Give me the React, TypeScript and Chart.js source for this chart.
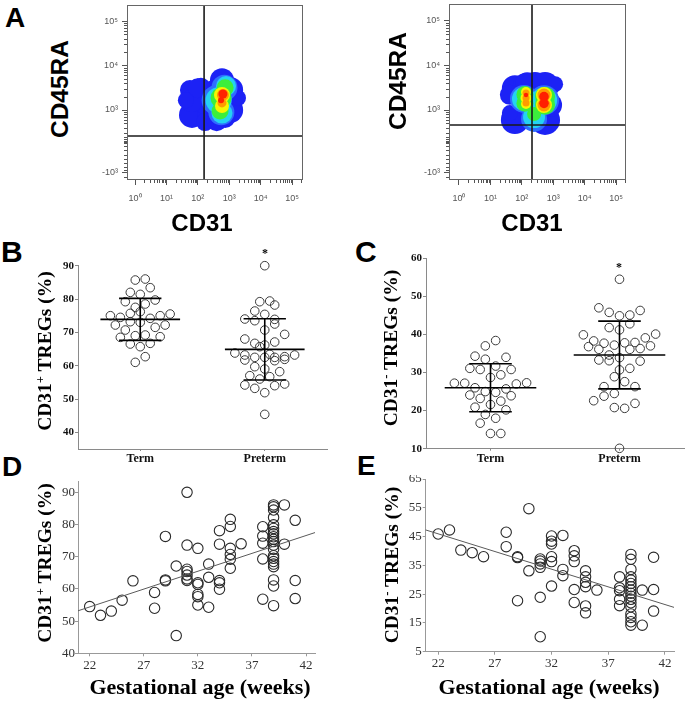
import React, { useEffect, useRef } from "react";
import { Chart, registerables } from "chart.js";

Chart.register(...registerables);

const SANS = '"Liberation Sans", Arial, sans-serif';
const SERIF = '"Liberation Serif", "Times New Roman", serif';

// ---------------- Panel A (flow cytometry density plots) ----------------
const flowXTickValues = [0, 1, 2, 3, 4, 5];
const flowXTickLabels = ["10⁰", "10¹", "10²", "10³", "10⁴", "10⁵"];
const flowYTickValues = [1.6, 3, 4, 5];
const flowYTickLabels = ["-10³", "10³", "10⁴", "10⁵"];
const flowYMinorLow = [2.95, 2.9, 2.85, 2.78, 2.7, 2.6, 2.48, 2.4, 2.34, 2.31, 2.3, 2.29, 2.28, 2.27, 2.26, 2.25, 2.2, 2.1, 2.0, 1.9, 1.8, 1.72, 1.66, 1.5];

// gates: [CD31 threshold, CD45RA threshold] in display units
const a1Gates = [2.2, 2.416];
const a2Gates = [2.325, 2.663];

type Blob = { x: number; y: number; r: number };
// density levels, low -> high
const a1Blue: Blob[] = [
  { x: 1.75, y: 3.45, r: 10 }, { x: 1.91, y: 3.045, r: 13 }, { x: 1.815, y: 2.89, r: 13 },
  { x: 2.39, y: 2.89, r: 13 }, { x: 2.77, y: 3.67, r: 12 }, { x: 3.03, y: 3.45, r: 13 },
  { x: 3.03, y: 3.0, r: 13 }, { x: 2.55, y: 3.34, r: 15 }, { x: 2.87, y: 2.82, r: 10 },
  { x: 2.1, y: 3.5, r: 10 }, { x: 2.3, y: 3.2, r: 14 }, { x: 1.8, y: 3.2, r: 11 },
  { x: 2.0, y: 3.49, r: 10 }, { x: 1.62, y: 3.22, r: 8 }, { x: 3.28, y: 3.27, r: 8 },
  { x: 2.23, y: 2.73, r: 9 }, { x: 2.6, y: 2.75, r: 10 },
];
const a1LightBlue: Blob[] = [{ x: 2.6, y: 3.22, r: 15 }, { x: 2.85, y: 3.5, r: 13 }, { x: 2.75, y: 2.95, r: 13 }];
const a1Cyan: Blob[] = [{ x: 2.66, y: 3.22, r: 13 }, { x: 2.9, y: 3.54, r: 10 }, { x: 2.77, y: 2.93, r: 10.5 }];
const a1Green: Blob[] = [{ x: 2.74, y: 3.27, r: 10.5 }, { x: 2.87, y: 3.5, r: 8.5 }, { x: 2.71, y: 2.98, r: 8.5 }];
const a1Yellow: Blob[] = [{ x: 2.77, y: 3.34, r: 8 }, { x: 2.77, y: 3.09, r: 7 }];
const a1Orange: Blob[] = [{ x: 2.8, y: 3.34, r: 6 }, { x: 2.77, y: 3.16, r: 4.5 }];
const a1Red: Blob[] = [{ x: 2.8, y: 3.36, r: 4.5 }, { x: 2.74, y: 3.22, r: 3 }];

const a2Blue: Blob[] = [
  { x: 1.78, y: 3.49, r: 13 }, { x: 1.78, y: 2.775, r: 14 }, { x: 2.42, y: 3.54, r: 14 },
  { x: 2.74, y: 3.54, r: 14 }, { x: 2.74, y: 2.775, r: 15 }, { x: 2.26, y: 3.0, r: 18 },
  { x: 1.62, y: 2.93, r: 8 }, { x: 2.9, y: 3.11, r: 12 }, { x: 2.1, y: 3.55, r: 12 },
  { x: 2.17, y: 3.58, r: 12 }, { x: 3.06, y: 3.58, r: 8 }, { x: 1.62, y: 3.34, r: 10 },
];
const a2LightBlue: Blob[] = [{ x: 2.07, y: 3.25, r: 14 }, { x: 2.71, y: 3.22, r: 15 }, { x: 2.39, y: 2.8, r: 13 }];
const a2Cyan: Blob[] = [{ x: 2.07, y: 3.25, r: 12 }, { x: 2.71, y: 3.22, r: 13 }, { x: 2.39, y: 2.84, r: 11 }];
const a2Green: Blob[] = [
  { x: 2.1, y: 3.35, r: 8.5 }, { x: 2.1, y: 3.15, r: 8.5 }, { x: 2.74, y: 3.3, r: 10 },
  { x: 2.74, y: 3.12, r: 10 }, { x: 2.39, y: 2.91, r: 7 },
];
const a2Yellow: Blob[] = [{ x: 2.134, y: 3.404, r: 5 }, { x: 2.134, y: 3.135, r: 5 }, { x: 2.134, y: 3.27, r: 5.5 }, { x: 2.707, y: 3.337, r: 8 }, { x: 2.707, y: 3.112, r: 8 }];
const a2Orange: Blob[] = [{ x: 2.134, y: 3.38, r: 3.5 }, { x: 2.134, y: 3.16, r: 3.5 }, { x: 2.134, y: 3.27, r: 3.5 }, { x: 2.707, y: 3.337, r: 6.5 }, { x: 2.707, y: 3.112, r: 6.5 }];
const a2Red: Blob[] = [{ x: 2.134, y: 3.337, r: 2.2 }, { x: 2.707, y: 3.3, r: 4.8 }, { x: 2.707, y: 3.15, r: 4.8 }];

const densityColors = ["#1c22f5", "#2f6dff", "#24d2f2", "#3cee3c", "#f6f600", "#ff9a00", "#ff2000"];

// ---------------- Panels B & C (Term vs Preterm) ----------------
const groupLabels = ["Term", "Preterm"];

const bTermValues = [85.7, 86.0, 83.4, 82.0, 81.4, 79.2, 79.7, 78.5, 77.5, 76.2, 75.7, 75.0, 74.5, 75.0, 75.5, 74.2, 73.2, 73.0, 72.2, 72.2, 71.5, 70.7, 68.5, 69.0, 69.2, 68.7, 66.5, 65.7, 66.7, 62.7, 61.0];
const bTermSlots = [-1, 1, 2, -2, 0, -3, 3, 1, -1, 0, -2, -6, -4, 4, 6, 2, -2, 0, -5, 5, 3, -3, -4, -1, 1, 4, -2, 0, 2, 1, -1];
const bPretermValues = [90.0, 79.2, 79.4, 78.2, 76.4, 75.4, 74.0, 73.5, 73.9, 72.5, 70.7, 69.4, 68.0, 66.7, 66.2, 67.1, 65.7, 63.8, 63.2, 62.5, 62.5, 62.5, 62.7, 63.2, 61.7, 63.4, 61.5, 61.9, 59.7, 59.0, 58.2, 57.0, 56.0, 56.7, 54.2, 53.2, 51.9, 54.0, 54.5, 45.4];
const bPretermSlots = [0, -1, 1, 2, -2, 0, -4, -2, 2, 2, 0, 4, -4, -2, 0, 2, -1, -6, -4, -2, 0, 2, 4, 6, -4, 1, 2, 4, -2, 0, 3, -3, -1, 1, -4, -2, 0, 2, 4, 0];
const bMeans = [73.9, 64.9];
const bSds = [6.3, 9.2];
const bYTicks = [40, 50, 60, 70, 80, 90];

const cTermValues = [38.4, 37.0, 34.3, 34.0, 33.5, 31.1, 30.8, 31.7, 30.8, 29.4, 28.7, 27.2, 27.2, 27.0, 27.3, 26.0, 25.7, 24.8, 25.0, 24.1, 23.9, 23.2, 22.5, 21.6, 20.9, 20.2, 19.0, 18.0, 16.7, 14.0, 14.0];
const cTermSlots = [1, -1, -3, 3, -1, -4, -2, 1, 4, 2, 0, -7, -5, 5, 7, -3, 3, 1, -1, -4, 4, -2, 2, 0, -3, 3, -1, 1, -2, 0, 2];
const cPretermValues = [54.5, 47.0, 45.8, 45.1, 46.3, 44.9, 42.8, 41.8, 41.2, 39.9, 38.3, 37.7, 37.2, 37.8, 37.9, 39.1, 40.1, 36.8, 36.1, 34.6, 33.9, 36.1, 36.3, 37.0, 33.3, 33.1, 33.0, 30.7, 31.1, 28.9, 27.6, 26.3, 26.3, 24.5, 23.8, 22.6, 21.9, 20.8, 20.6, 10.1];
const cPretermSlots = [0, -4, -2, 2, 4, 0, 2, -2, 0, -7, -5, -3, -1, 1, 3, 5, 7, -6, -4, -2, 0, 2, 4, 6, -4, -2, 4, 0, 2, -1, 1, -3, 3, -1, -3, -5, 3, -1, 1, 0];
const cMeans = [26.0, 34.6];
const cSds = [6.3, 8.9];
const cYTicks = [10, 20, 30, 40, 50, 60];

// ---------------- Panels D & E (vs gestational age) ----------------
const ageTicks = [22, 27, 32, 37, 42];

const dWeeks = [22, 23, 24, 25, 26, 28, 28, 29, 29, 29, 30, 30, 31, 31, 31, 31, 31, 31, 31, 32, 32, 32, 32, 32, 32, 33, 33, 33, 34, 34, 34, 34, 34, 35, 35, 35, 35, 35, 35, 36, 38, 38, 38, 38, 38, 39, 39, 39, 39, 39, 39, 39, 39, 39, 39, 39, 39, 39, 39, 39, 39, 39, 39, 39, 39, 39, 40, 40, 41, 41, 41];
const dValues = [54.5, 51.8, 53.1, 56.5, 62.5, 58.9, 54.0, 76.3, 62.8, 62.5, 67.1, 45.5, 90.0, 73.6, 66.1, 65.4, 64.3, 63.1, 62.6, 72.6, 61.9, 61.4, 58.3, 57.6, 55.0, 67.7, 63.6, 54.3, 78.1, 73.9, 62.6, 61.9, 59.9, 81.6, 79.4, 72.6, 70.7, 69.2, 66.4, 74.0, 79.3, 76.4, 74.2, 69.3, 56.8, 86.1, 85.5, 84.5, 82.2, 79.9, 78.8, 77.8, 77.1, 76.2, 75.4, 74.7, 73.6, 72.3, 70.3, 69.5, 68.5, 67.7, 66.9, 62.8, 60.9, 54.8, 86.1, 73.9, 81.3, 62.6, 57.0];
const dFitX = [20.92, 42.83];
const dFitY = [53.2, 77.5];
const dYTicks = [40, 50, 60, 70, 80, 90];

const eWeeks = [22, 23, 24, 25, 26, 28, 28, 29, 29, 29, 30, 30, 31, 31, 31, 31, 31, 31, 32, 32, 32, 32, 32, 32, 33, 33, 33, 34, 34, 34, 34, 34, 35, 35, 35, 35, 35, 35, 36, 38, 38, 38, 38, 38, 39, 39, 39, 39, 39, 39, 39, 39, 39, 39, 39, 39, 39, 39, 39, 39, 39, 40, 40, 41, 41, 41];
const eValues = [45.9, 47.3, 40.3, 39.4, 38.0, 46.5, 41.5, 38.0, 37.7, 22.7, 54.7, 33.1, 37.2, 36.5, 35.5, 34.3, 23.9, 10.2, 45.2, 43.4, 42.4, 38.0, 36.3, 27.8, 45.4, 33.6, 31.4, 40.1, 38.3, 36.3, 26.6, 22.1, 33.1, 31.0, 29.1, 27.6, 20.9, 18.5, 26.4, 31.0, 27.2, 26.2, 23.2, 21.0, 38.8, 37.1, 33.6, 31.0, 29.9, 28.7, 27.6, 26.4, 25.3, 24.3, 23.2, 22.0, 20.6, 18.1, 16.9, 15.4, 14.2, 26.4, 14.2, 37.8, 26.6, 19.1];
const eFitX = [20.9, 42.8];
const eFitY = [47.3, 20.4];
const eYTicks = [5, 15, 25, 35, 45, 55, 65];

// ---------------- helpers ----------------
type Box = { L: number; T: number; R: number; B: number; yW: number; xH: number; pt: number; pr: number };
type Geom = { padTop: number; padRight: number; yW: number; xH: number };

function geomOf(box: Box) {
  const left = Math.round(box.L - box.yW);
  const top = Math.round(box.T - box.pt);
  const width = Math.round(box.R + box.pr - left);
  const height = Math.round(box.B + box.xH - top);
  const g: Geom = { padTop: box.T - top, padRight: left + width - box.R, yW: box.L - left, xH: top + height - box.B };
  return { left, top, width, height, g };
}

function ChartBox({ box, make }: { box: Box; make: (g: Geom) => any }) {
  const ref = useRef<HTMLCanvasElement>(null);
  const { left, top, width, height, g } = geomOf(box);
  useEffect(() => {
    const chart = new Chart(ref.current as HTMLCanvasElement, make(g));
    return () => chart.destroy();
  }, []);
  return (
    <div style={{ position: "absolute", left, top, width, height }}>
      <canvas ref={ref} />
    </div>
  );
}

function baseOptions(g: Geom, xScale: any, yScale: any) {
  return {
    responsive: true,
    maintainAspectRatio: false,
    animation: false,
    events: [],
    layout: { autoPadding: false, padding: { left: 0, top: g.padTop, right: g.padRight, bottom: 0 } },
    plugins: { legend: { display: false }, tooltip: { enabled: false }, title: { display: false } },
    scales: {
      x: {
        type: "linear",
        ...xScale,
        afterFit: (s: any) => { s.height = g.xH; s.paddingLeft = 0; s.paddingRight = 0; },
      },
      y: {
        type: "linear",
        ...yScale,
        afterFit: (s: any) => { s.width = g.yW; s.paddingTop = 0; s.paddingBottom = 0; },
      },
    },
  };
}

function fixedTicks(values: number[]) {
  return (s: any) => { s.ticks = values.map((v) => ({ value: v })); };
}

function lineDs(pts: { x: number; y: number }[], color: string, width: number, order = 0) {
  return { type: "scatter", data: pts, showLine: true, pointRadius: 0, borderColor: color, borderWidth: width, fill: false, order, clip: false };
}

function framePlugin(color: string) {
  return {
    id: "frame",
    afterDatasetsDraw(chart: any) {
      const { ctx, chartArea } = chart;
      ctx.save();
      ctx.strokeStyle = color;
      ctx.lineWidth = 1;
      ctx.strokeRect(chartArea.left + 0.5, chartArea.top + 0.5, chartArea.right - chartArea.left - 1, chartArea.bottom - chartArea.top - 1);
      ctx.restore();
    },
  };
}

function minorTickPlugin(xs: number[], ys: number[], len: number, color: string) {
  return {
    id: "minorTicks",
    afterDraw(chart: any) {
      const { ctx } = chart;
      const sx = chart.scales.x, sy = chart.scales.y;
      ctx.save();
      ctx.strokeStyle = color;
      ctx.lineWidth = 1;
      ctx.beginPath();
      for (const v of xs) {
        const p = Math.round(sx.getPixelForValue(v)) + 0.5;
        ctx.moveTo(p, sy.bottom);
        ctx.lineTo(p, sy.bottom + len);
      }
      for (const v of ys) {
        const p = Math.round(sy.getPixelForValue(v)) + 0.5;
        ctx.moveTo(sx.left, p);
        ctx.lineTo(sx.left - len, p);
      }
      ctx.stroke();
      ctx.restore();
    },
  };
}

function logMinors(from: number, to: number, max: number) {
  const out: number[] = [];
  for (let d = from; d < to; d++) for (let k = 2; k <= 9; k++) { const v = d + Math.log10(k); if (v <= max) out.push(v); }
  return out;
}

// ---------------- chart builders ----------------
function makeFlow(levels: Blob[][], gates: number[], xr: number[], yr: number[]) {
  return (g: Geom) => {
    const datasets: any[] = [
      lineDs([{ x: gates[0], y: yr[0] }, { x: gates[0], y: yr[1] }], "#1a1a1a", 1.6, 0),
      lineDs([{ x: xr[0], y: gates[1] }, { x: xr[1], y: gates[1] }], "#1a1a1a", 1.6, 0),
    ];
    levels.forEach((lv, i) => {
      datasets.push({ type: "bubble", data: lv, backgroundColor: densityColors[i], borderWidth: 0, order: levels.length - i });
    });
    const tickFont = { family: SANS, size: 9 };
    const options = baseOptions(
      g,
      {
        min: xr[0], max: xr[1],
        afterBuildTicks: fixedTicks(flowXTickValues),
        border: { display: false },
        grid: { display: true, drawOnChartArea: false, drawTicks: true, tickLength: 5, color: "#555" },
        ticks: { font: tickFont, color: "#555", padding: 8, maxRotation: 0, autoSkip: false, callback: (_v: any, i: number) => flowXTickLabels[i] },
      },
      {
        min: yr[0], max: yr[1],
        afterBuildTicks: fixedTicks(flowYTickValues),
        border: { display: false },
        grid: { display: true, drawOnChartArea: false, drawTicks: true, tickLength: 5, color: "#555" },
        ticks: { font: tickFont, color: "#555", padding: 4, autoSkip: false, callback: (_v: any, i: number) => flowYTickLabels[i] },
      }
    );
    return {
      type: "scatter",
      data: { datasets },
      options,
      plugins: [framePlugin("#666"), minorTickPlugin(logMinors(0, 6, xr[1]), [...flowYMinorLow, ...logMinors(3, 5, yr[1])], 3, "#555")],
    };
  };
}

function makeGroups(termV: number[], termS: number[], preV: number[], preS: number[], means: number[], sds: number[], yTicks: number[], yr: number[], meanHalf: number, capHalf: number) {
  return (g: Geom) => {
    const step = 0.04;
    const pointStyle = { pointRadius: 4.3, pointBorderWidth: 1, pointBorderColor: "#3a3a3a", pointBackgroundColor: "rgba(0,0,0,0)", clip: false };
    const datasets: any[] = [
      { type: "scatter", data: termV.map((v, i) => ({ x: 0 + termS[i] * step, y: v })), ...pointStyle, order: 2 },
      { type: "scatter", data: preV.map((v, i) => ({ x: 1 + preS[i] * step, y: v })), ...pointStyle, order: 2 },
    ];
    means.forEach((m, i) => {
      const hi = m + sds[i], lo = m - sds[i];
      datasets.push(lineDs([{ x: i - meanHalf, y: m }, { x: i + meanHalf, y: m }], "#000", 1.6, 1));
      datasets.push(lineDs([{ x: i, y: lo }, { x: i, y: hi }], "#000", 1.6, 1));
      datasets.push(lineDs([{ x: i - capHalf, y: hi }, { x: i + capHalf, y: hi }], "#000", 1.6, 1));
      datasets.push(lineDs([{ x: i - capHalf, y: lo }, { x: i + capHalf, y: lo }], "#000", 1.6, 1));
    });
    const axisColor = "#8a8a8a";
    const options = baseOptions(
      g,
      {
        min: -0.5, max: 1.5,
        afterBuildTicks: fixedTicks([0, 1]),
        border: { display: true, color: axisColor, width: 1 },
        grid: { display: true, drawOnChartArea: false, drawTicks: true, tickLength: 2, color: axisColor },
        ticks: { font: { family: SERIF, size: 12, weight: "bold" }, color: "#111", padding: 1, maxRotation: 0, autoSkip: false, callback: (_v: any, i: number) => groupLabels[i] },
      },
      {
        min: yr[0], max: yr[1],
        afterBuildTicks: fixedTicks(yTicks),
        border: { display: true, color: axisColor, width: 1 },
        grid: { display: true, drawOnChartArea: false, drawTicks: true, tickLength: 3, color: axisColor },
        ticks: { font: { family: SERIF, size: 11, weight: "bold" }, color: "#111", padding: 1, autoSkip: false, callback: (v: any) => String(v) },
      }
    );
    return { type: "scatter", data: { datasets }, options };
  };
}

function makeAge(weeks: number[], values: number[], fitX: number[], fitY: number[], yTicks: number[], xr: number[], yr: number[], ypad: number) {
  return (g: Geom) => {
    const datasets: any[] = [
      lineDs(fitX.map((x, i) => ({ x, y: fitY[i] })), "#5a5a5a", 1, 0),
      { type: "scatter", data: weeks.map((w, i) => ({ x: w, y: values[i] })), pointRadius: 5.2, pointBorderWidth: 1.1, pointBorderColor: "#2a2a2a", pointBackgroundColor: "rgba(0,0,0,0)", clip: false, order: 1 },
    ];
    const axisColor = "#999";
    const tickFont = { family: SERIF, size: 13 };
    const options = baseOptions(
      g,
      {
        min: xr[0], max: xr[1],
        afterBuildTicks: fixedTicks(ageTicks),
        border: { display: true, color: axisColor, width: 1 },
        grid: { display: true, drawOnChartArea: false, drawTicks: true, tickLength: 3, color: axisColor },
        ticks: { font: tickFont, color: "#333", padding: 1, maxRotation: 0, autoSkip: false, callback: (v: any) => String(v) },
      },
      {
        min: yr[0], max: yr[1],
        afterBuildTicks: fixedTicks(yTicks),
        border: { display: true, color: axisColor, width: 1 },
        grid: { display: true, drawOnChartArea: false, drawTicks: true, tickLength: 3, color: axisColor },
        ticks: { font: tickFont, color: "#333", padding: ypad, autoSkip: false, callback: (v: any) => String(v) },
      }
    );
    return { type: "scatter", data: { datasets }, options };
  };
}

// ---------------- text helpers ----------------
function HText({ x, base, size, font, weight = 700, align = "center", color = "#000", children }: any) {
  const ratio = font === SANS ? 0.8465 : 0.8375;
  return (
    <div
      style={{
        position: "absolute",
        left: x,
        top: base - ratio * size,
        transform: align === "center" ? "translateX(-50%)" : "none",
        fontFamily: font,
        fontSize: size,
        fontWeight: weight,
        lineHeight: 1,
        whiteSpace: "nowrap",
        color,
      }}
    >
      {children}
    </div>
  );
}

function VText({ cx, cy, size, font, children }: any) {
  return (
    <div
      style={{
        position: "absolute",
        left: cx,
        top: cy,
        transform: "translate(-50%, -50%) rotate(-90deg)",
        fontFamily: font,
        fontSize: size,
        fontWeight: 700,
        lineHeight: 1,
        whiteSpace: "nowrap",
        color: "#000",
      }}
    >
      {children}
    </div>
  );
}

const Sup = ({ children }: any) => (
  <span style={{ fontSize: "0.65em", position: "relative", top: "-0.55em" }}>{children}</span>
);

// ---------------- boxes ----------------
const boxA1: Box = { L: 127, T: 5, R: 303, B: 180, yW: 40, xH: 30, pt: 4, pr: 4 };
const boxA2: Box = { L: 449, T: 4, R: 626, B: 180, yW: 40, xH: 30, pt: 3, pr: 4 };
const boxB: Box = { L: 78, T: 265.7, R: 327, B: 449, yW: 30, xH: 25, pt: 16, pr: 4 };
const boxC: Box = { L: 426, T: 258.3, R: 684, B: 448.7, yW: 30, xH: 25, pt: 10, pr: 4 };
const boxD: Box = { L: 78, T: 481.7, R: 315, B: 653.3, yW: 30, xH: 22, pt: 6, pr: 6 };
const boxE: Box = { L: 425.7, T: 479, R: 674, B: 651.7, yW: 30, xH: 22, pt: 4, pr: 8 };

export default function App() {
  return (
    <div style={{ position: "absolute", left: 0, top: 0, width: 688, height: 703, background: "#fff", overflow: "hidden" }}>
      <ChartBox box={boxA1} make={makeFlow([a1Blue, a1LightBlue, a1Cyan, a1Green, a1Yellow, a1Orange, a1Red], a1Gates, [-0.255, 5.35], [1.427, 5.36])} />
      <ChartBox box={boxA2} make={makeFlow([a2Blue, a2LightBlue, a2Cyan, a2Green, a2Yellow, a2Orange, a2Red], a2Gates, [-0.318, 5.318], [1.427, 5.382])} />
      <ChartBox box={boxB} make={makeGroups(bTermValues, bTermSlots, bPretermValues, bPretermSlots, bMeans, bSds, bYTicks, [35, 90], 0.32, 0.17)} />
      <ChartBox box={boxC} make={makeGroups(cTermValues, cTermSlots, cPretermValues, cPretermSlots, cMeans, cSds, cYTicks, [10, 60], 0.355, 0.165)} />
      <ChartBox box={boxD} make={makeAge(dWeeks, dValues, dFitX, dFitY, dYTicks, [20.92, 42.83], [40, 93.3], 0)} />
      <ChartBox box={boxE} make={makeAge(eWeeks, eValues, eFitX, eFitY, eYTicks, [20.9, 42.8], [5, 65], 1)} />

      {/* panel letters */}
      <HText x={5} base={28} size={28} font={SANS} align="left">A</HText>
      <HText x={1} base={262} size={30} font={SANS} align="left">B</HText>
      <HText x={355} base={262} size={30} font={SANS} align="left">C</HText>
      <HText x={2} base={477} size={28} font={SANS} align="left">D</HText>
      <HText x={357} base={476} size={28} font={SANS} align="left">E</HText>

      {/* panel A titles */}
      <VText cx={60} cy={89} size={24.5} font={SANS}>CD45RA</VText>
      <VText cx={398} cy={81} size={24.5} font={SANS}>CD45RA</VText>
      <HText x={202} base={231} size={24} font={SANS}>CD31</HText>
      <HText x={532} base={231} size={24} font={SANS}>CD31</HText>

      {/* panel B/C titles */}
      <VText cx={45} cy={351} size={19.5} font={SERIF}>CD31<Sup>+</Sup> TREGs (%)</VText>
      <VText cx={391} cy={348} size={19.5} font={SERIF}>CD31<Sup>-</Sup> TREGs (%)</VText>
      <HText x={265} base={256.7} size={12} font={SERIF}>*</HText>
      <HText x={619} base={271.3} size={12} font={SERIF}>*</HText>

      {/* panel D/E titles */}
      <VText cx={45} cy={563} size={19.5} font={SERIF}>CD31<Sup>+</Sup> TREGs (%)</VText>
      <VText cx={392} cy={565} size={19.5} font={SERIF}>CD31<Sup>-</Sup> TREGs (%)</VText>
      <HText x={200} base={694} size={22} font={SERIF}>Gestational age (weeks)</HText>
      <HText x={549} base={694} size={22} font={SERIF}>Gestational age (weeks)</HText>
    </div>
  );
}
